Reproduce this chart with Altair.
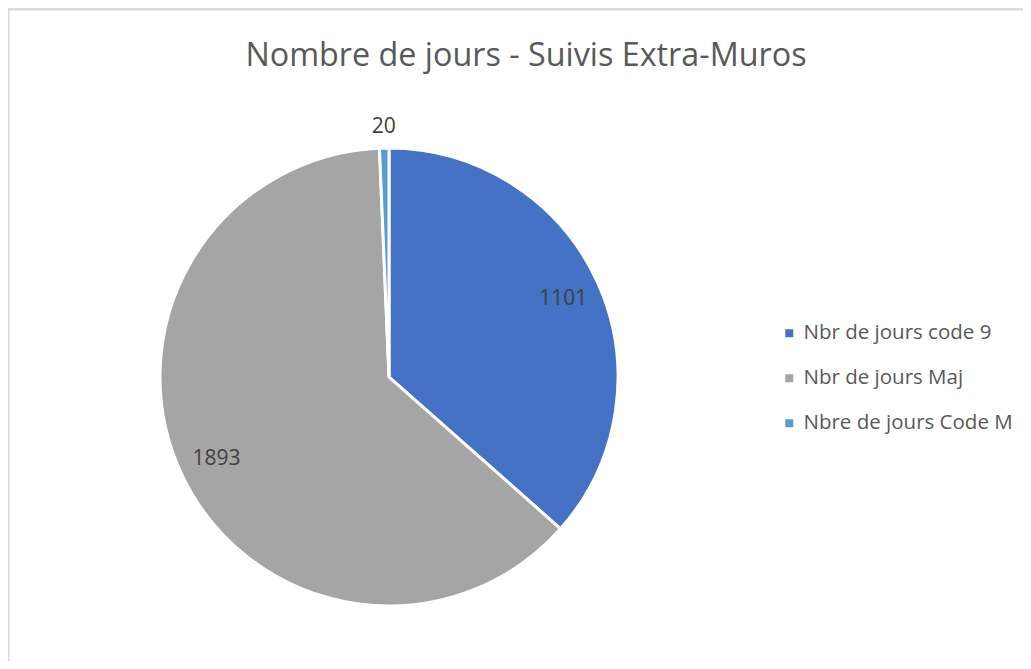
import altair as alt
import pandas as pd

categories = ["Nbr de jours code 9", "Nbr de jours Maj", "Nbre de jours Code M"]
values = [1101, 1893, 20]
order = [1, 2, 3]
colors = ["#4472C4", "#A5A5A5", "#5B9BD5"]
title_text = "Nombre de jours - Suivis Extra-Muros"

df = pd.DataFrame({"category": categories, "value": values, "order": order})

FONT = "Open Sans"
CX, CY, R = 381, 369, 229

base = alt.Chart(df).encode(
    theta=alt.Theta("value:Q", stack=True),
    order=alt.Order("order:Q"),
)

color_enc = alt.Color(
    "category:N",
    scale=alt.Scale(domain=categories, range=colors),
    legend=alt.Legend(
        title=None,
        orient="none",
        legendX=771,
        legendY=315,
        symbolType="square",
        symbolSize=64,
        symbolStrokeWidth=0,
        labelFont=FONT,
        labelFontSize=20.5,
        labelColor="#595959",
        labelOffset=4,
        rowPadding=24,
        padding=0,
        labelLimit=400,
    ),
)

pie = base.mark_arc(stroke="white", strokeWidth=3).encode(
    color=color_enc,
    x=alt.value(CX),
    y=alt.value(CY),
    radius=alt.value(R),
)

labels_in = base.mark_text(font=FONT, fontSize=21, color="#404040", baseline="middle").encode(
    x=alt.value(CX),
    y=alt.value(CY),
    radius=alt.value(191),
    text=alt.condition("datum.value >= 100", alt.Text("value:Q"), alt.value("")),
)

labels_out = base.mark_text(font=FONT, fontSize=21, color="#404040", baseline="middle").encode(
    x=alt.value(CX),
    y=alt.value(CY),
    radius=alt.value(250),
    text=alt.condition("datum.value < 100", alt.Text("value:Q"), alt.value("")),
)

one = pd.DataFrame({"t": [title_text]})
border = alt.Chart(one).mark_rect(fill="white", stroke="#D9D9D9", strokeWidth=1.5).encode(
    x=alt.value(0.75), y=alt.value(1.75), x2=alt.value(1200), y2=alt.value(900)
)
title = alt.Chart(one).mark_text(
    font=FONT, fontSize=32.3, color="#595959", align="center", baseline="alphabetic"
).encode(x=alt.value(518), y=alt.value(58), text="t:N")

chart = (
    alt.layer(border, title, pie, labels_in, labels_out)
    .properties(width=1015, height=653, padding=0, autosize="none")
    .configure_view(stroke=None)
    .configure(background="white")
)

chart.save("out.html", embed_options={"renderer": "svg", "actions": False})
